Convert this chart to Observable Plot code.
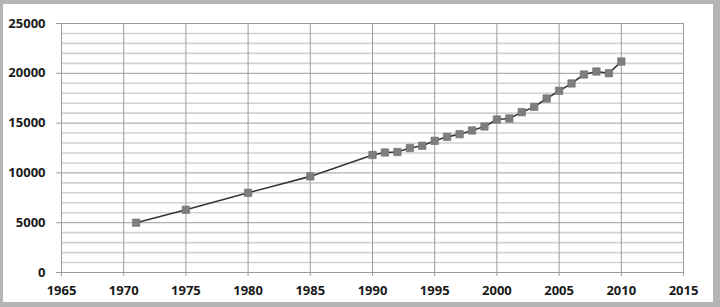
<!DOCTYPE html>
<html>
<head>
<meta charset="utf-8">
<script src="https://cdn.jsdelivr.net/npm/d3@7"></script>
<script src="https://cdn.jsdelivr.net/npm/@observablehq/plot@0.6"></script>
<style>
  html, body { margin: 0; padding: 0; background: #fff; }
  #wrap { position: relative; width: 720px; height: 307px; overflow: hidden; }
  #frame { position: absolute; left: 0; top: 0; width: 720px; height: 307px; box-sizing: border-box;
    border-style: solid; border-color: #b5b5b5; border-width: 4px 7px 5px 3px; pointer-events: none; }
</style>
</head>
<body>
<div id="wrap"><div id="frame"></div></div>
<script>
const years = [1971, 1975, 1980, 1985, 1990, 1991, 1992, 1993, 1994, 1995, 1996, 1997, 1998, 1999,
  2000, 2001, 2002, 2003, 2004, 2005, 2006, 2007, 2008, 2009, 2010];
const values = [5000, 6300, 8000, 9650, 11800, 12050, 12100, 12500, 12720, 13220, 13620, 13890, 14260, 14660,
  15360, 15460, 16100, 16630, 17470, 18240, 18980, 19880, 20180, 20010, 21180];
const xTicks = [1965, 1970, 1975, 1980, 1985, 1990, 1995, 2000, 2005, 2010, 2015];
const yTicks = [0, 5000, 10000, 15000, 20000, 25000];
const yMinor = d3.range(1000, 25000, 1000).filter(v => v % 5000 !== 0);

const data = years.map((y, i) => ({year: y, value: values[i]}));

const chart = Plot.plot({
  width: 720,
  height: 307,
  marginLeft: 61,
  marginRight: 37,
  marginTop: 23,
  marginBottom: 35,
  style: {fontFamily: "'Open Sans', sans-serif", fontSize: "13px", fontWeight: "700", color: "#1a1a1a", background: "transparent"},
  x: {domain: [1965, 2015]},
  y: {domain: [0, 25000]},
  marks: [
    Plot.ruleY(yMinor, {x1: 1965, x2: 2015, stroke: "#d2d2d2", strokeWidth: 1.6}),
    Plot.ruleY(yTicks, {x1: 1965, x2: 2015, stroke: "#9c9c9c", strokeWidth: 1}),
    Plot.ruleX(xTicks, {y1: 0, y2: 25000, stroke: "#9c9c9c", strokeWidth: 1}),
    Plot.axisY({ticks: yTicks, tickSize: 5, tickPadding: 11, stroke: "#9c9c9c", fill: "#1a1a1a", tickFormat: d => String(d), label: null}),
    Plot.axisX({ticks: xTicks, tickSize: 4, tickPadding: 9, stroke: "#9c9c9c", fill: "#1a1a1a", tickFormat: d => String(d), label: null}),
    Plot.line(data, {x: "year", y: "value", stroke: "#363636", strokeWidth: 1.6}),
    Plot.dot(data, {x: "year", y: "value", symbol: "square", r: 4.2, fill: "#7e7e7e", stroke: "#6e6e6e", strokeWidth: 0.6})
  ]
});
document.getElementById("wrap").insertBefore(chart, document.getElementById("frame"));
</script>
</body>
</html>
